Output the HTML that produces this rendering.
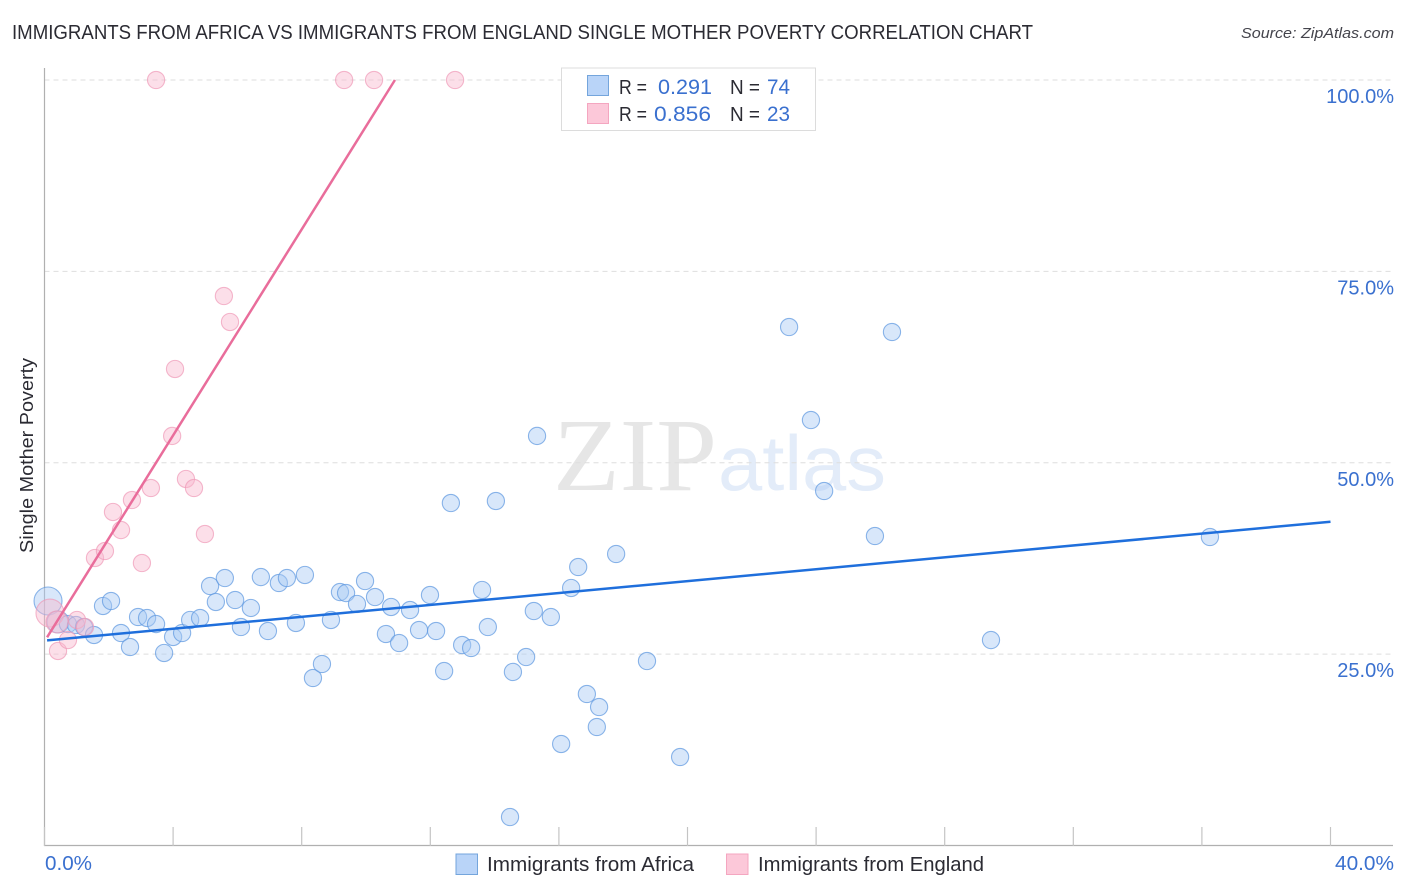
<!DOCTYPE html>
<html>
<head>
<meta charset="utf-8">
<style>
html,body{margin:0;padding:0;background:#fff;width:1406px;height:892px;overflow:hidden}
svg{display:block;font-family:"Liberation Sans",sans-serif}
</style>
</head>
<body>
<svg id="chart" xmlns="http://www.w3.org/2000/svg" width="1406" height="892" viewBox="0 0 1406 892">
  <text x="12" y="39" font-size="20" fill="#2b2b33" textLength="1021" lengthAdjust="spacingAndGlyphs">IMMIGRANTS FROM AFRICA VS IMMIGRANTS FROM ENGLAND SINGLE MOTHER POVERTY CORRELATION CHART</text>
  <text x="1241" y="38" font-size="15" font-style="italic" fill="#44444c" textLength="153" lengthAdjust="spacingAndGlyphs">Source: ZipAtlas.com</text>
  <text transform="translate(33,553) rotate(-90)" font-size="18.5" fill="#2b2b33" textLength="195" lengthAdjust="spacingAndGlyphs">Single Mother Poverty</text>
  <g id="watermark">
    <text x="553" y="490" font-family="'Liberation Serif',serif" font-size="104" fill="#e6e6e6" textLength="164" lengthAdjust="spacingAndGlyphs">ZIP</text>
    <text x="718" y="490" font-size="78" fill="#e3ecf9" textLength="168" lengthAdjust="spacingAndGlyphs">atlas</text>
  </g>
  <g id="grid"></g>
  <g id="axes"></g>
  <g id="series-africa"></g>
  <g id="series-england"></g>
  <g id="trends"></g>
  <g id="labels"></g>
  <g>
    <rect x="561.5" y="68" width="254" height="62.5" fill="#fff" stroke="#dcdcdc" stroke-width="1"/>
    <rect x="587.5" y="75.5" width="21" height="20" fill="#b9d4f8" stroke="#74a5dc"/>
    <rect x="587.5" y="103.5" width="21" height="20" fill="#fcc8d9" stroke="#f4a6c0"/>
    <text x="619" y="94" font-size="20" fill="#2b2b33" textLength="28" lengthAdjust="spacingAndGlyphs">R =</text>
    <text x="658" y="94" font-size="21.5" fill="#3a70cf" textLength="54" lengthAdjust="spacingAndGlyphs">0.291</text>
    <text x="730" y="94" font-size="20" fill="#2b2b33" textLength="30" lengthAdjust="spacingAndGlyphs">N =</text>
    <text x="767" y="94" font-size="21.5" fill="#3a70cf" textLength="23" lengthAdjust="spacingAndGlyphs">74</text>
    <text x="619" y="121" font-size="20" fill="#2b2b33" textLength="28" lengthAdjust="spacingAndGlyphs">R =</text>
    <text x="654" y="121" font-size="21.5" fill="#3a70cf" textLength="57" lengthAdjust="spacingAndGlyphs">0.856</text>
    <text x="730" y="121" font-size="20" fill="#2b2b33" textLength="30" lengthAdjust="spacingAndGlyphs">N =</text>
    <text x="767" y="121" font-size="21.5" fill="#3a70cf" textLength="23" lengthAdjust="spacingAndGlyphs">23</text>
  </g>
  <g>
    <rect x="456" y="854" width="21.5" height="20.5" fill="#b9d4f8" stroke="#74a5dc"/>
    <text x="487" y="871" font-size="20" fill="#2b2b33" textLength="207" lengthAdjust="spacingAndGlyphs">Immigrants from Africa</text>
    <rect x="726.5" y="854" width="21.5" height="20.5" fill="#fcc8d9" stroke="#f4a6c0"/>
    <text x="758" y="871" font-size="20" fill="#2b2b33" textLength="226" lengthAdjust="spacingAndGlyphs">Immigrants from England</text>
  </g>
</svg>
<script>
const yTickValues = [25, 50, 75, 100];
const yTickLabels = ["25.0%", "50.0%", "75.0%", "100.0%"];
const xTickValues = [0, 4, 8, 12, 16, 20, 24, 28, 32, 36, 40];
const xEndLabels = ["0.0%", "40.0%"];

const africaX = [0.11,0.42,0.73,0.98,1.23,1.54,1.82,2.07,2.38,2.66,2.91,3.19,3.47,3.72,4.0,4.28,4.53,4.84,5.15,5.33,5.61,5.93,6.11,6.42,6.73,6.95,7.29,7.54,7.82,8.1,8.35,8.63,8.91,9.19,9.38,9.72,9.97,10.28,10.62,10.78,11.03,11.37,11.65,11.99,12.18,12.43,12.64,12.99,13.27,13.61,13.79,14.04,14.48,14.57,14.98,15.22,15.32,15.75,16.07,16.38,16.6,16.87,17.18,17.25,17.78,18.74,19.77,23.16,23.84,24.25,25.83,26.36,29.44,36.25];
const africaY = [31.94,29.2,28.93,28.8,28.54,27.5,31.29,31.94,27.76,25.93,29.85,29.72,28.93,25.15,27.24,27.76,29.46,29.72,33.9,31.81,34.94,32.07,28.54,31.03,35.07,28.02,34.29,34.94,29.07,35.34,21.88,23.71,29.46,33.11,32.98,31.55,34.55,32.46,27.63,31.16,26.45,30.76,28.15,32.72,28.02,22.79,44.74,26.19,25.8,33.38,28.54,45.0,3.72,22.67,24.62,30.63,53.5,29.85,13.26,33.64,36.38,19.79,15.48,18.09,38.08,24.1,11.56,67.73,55.58,46.31,40.43,67.08,26.84,40.3];
const africaWeight = [3,2];

const englandX = [0.17,0.39,0.42,0.73,1.01,1.26,1.57,1.88,2.13,2.38,2.72,3.03,3.31,3.47,3.97,4.06,4.4,4.65,4.99,5.58,5.77,9.32,10.25,12.77];
const englandY = [30.37,29.2,25.41,26.84,29.46,28.54,37.56,38.47,43.57,41.21,45.13,36.9,46.7,100,53.5,62.25,47.88,46.7,40.69,71.78,68.39,100,100,100];
const englandWeight = [3,2];

const africaTrendX = [0.08, 40];
const africaTrendY = [26.8, 42.3];
const englandTrendX = [0.08, 10.9];
const englandTrendY = [27.2, 100];

const NS = "http://www.w3.org/2000/svg";
function xScale(v){ return 44.5 + v * 32.15; }
function yScale(v){ return 845.5 - v * 7.655; }
function rScale(w){ return w === 3 ? 14 : w === 2 ? 11 : 8.6; }
function make(tag, attrs, parent){
  const el = document.createElementNS(NS, tag);
  for (const k in attrs) el.setAttribute(k, attrs[k]);
  parent.appendChild(el);
  return el;
}

const grid = document.getElementById("grid");
const axes = document.getElementById("axes");
const labels = document.getElementById("labels");

yTickValues.forEach(function(v, i){
  const line = make("line", {x1: 44.5, x2: 1393, y1: yScale(v), y2: yScale(v), stroke: "#dedede", "stroke-width": 1, "stroke-dasharray": "5 4"}, grid);
  
  
  const t = make("text", {x: 1394, y: yScale(v) + 23, "font-size": 20, fill: "#3a70cf", "text-anchor": "end"}, labels);
  
  
  t.textContent = yTickLabels[i];
});

const yAxis = make("line", {x1: 44.5, x2: 44.5, y1: 68, y2: 846, stroke: "#b0b0b0", "stroke-width": 1.2}, axes);


const xAxis = make("line", {x1: 44, x2: 1393, y1: 845.5, y2: 845.5, stroke: "#b0b0b0", "stroke-width": 1.2}, axes);



xTickValues.forEach(function(v){
  const tick = make("line", {x1: xScale(v), x2: xScale(v), y1: 827, y2: 846, stroke: "#c4c4c4", "stroke-width": 1.2}, axes);
  
  
});

const x0Label = make("text", {x: 45, y: 870, "font-size": 20, fill: "#3a70cf", textLength: 47, lengthAdjust: "spacingAndGlyphs"}, labels);


x0Label.textContent = xEndLabels[0];
const x1Label = make("text", {x: 1335, y: 870, "font-size": 20, fill: "#3a70cf", textLength: 59, lengthAdjust: "spacingAndGlyphs"}, labels);


x1Label.textContent = xEndLabels[1];

const africaGroup = document.getElementById("series-africa");
africaX.forEach(function(v, i){
  const c = make("circle", {cx: xScale(v), cy: yScale(africaY[i]), r: rScale(africaWeight[i] || 1), fill: "#a9c9f3", "fill-opacity": 0.45, stroke: "#5d97e0", "stroke-opacity": 0.7, "stroke-width": 1.1}, africaGroup);
  
  
});

const englandGroup = document.getElementById("series-england");
englandX.forEach(function(v, i){
  const c = make("circle", {cx: xScale(v), cy: yScale(englandY[i]), r: rScale(englandWeight[i] || 1), fill: "#f9b9ce", "fill-opacity": 0.45, stroke: "#f09ab8", "stroke-opacity": 0.7, "stroke-width": 1.1}, englandGroup);
  
  
});

const trends = document.getElementById("trends");
const africaLine = make("line", {x1: xScale(africaTrendX[0]), y1: yScale(africaTrendY[0]), x2: xScale(africaTrendX[1]), y2: yScale(africaTrendY[1]), stroke: "#1f6fdc", "stroke-width": 2.5}, trends);


const englandLine = make("line", {x1: xScale(englandTrendX[0]), y1: yScale(englandTrendY[0]), x2: xScale(englandTrendX[1]), y2: yScale(englandTrendY[1]), stroke: "#e96d9b", "stroke-width": 2.5}, trends);


</script>
</body>
</html>
